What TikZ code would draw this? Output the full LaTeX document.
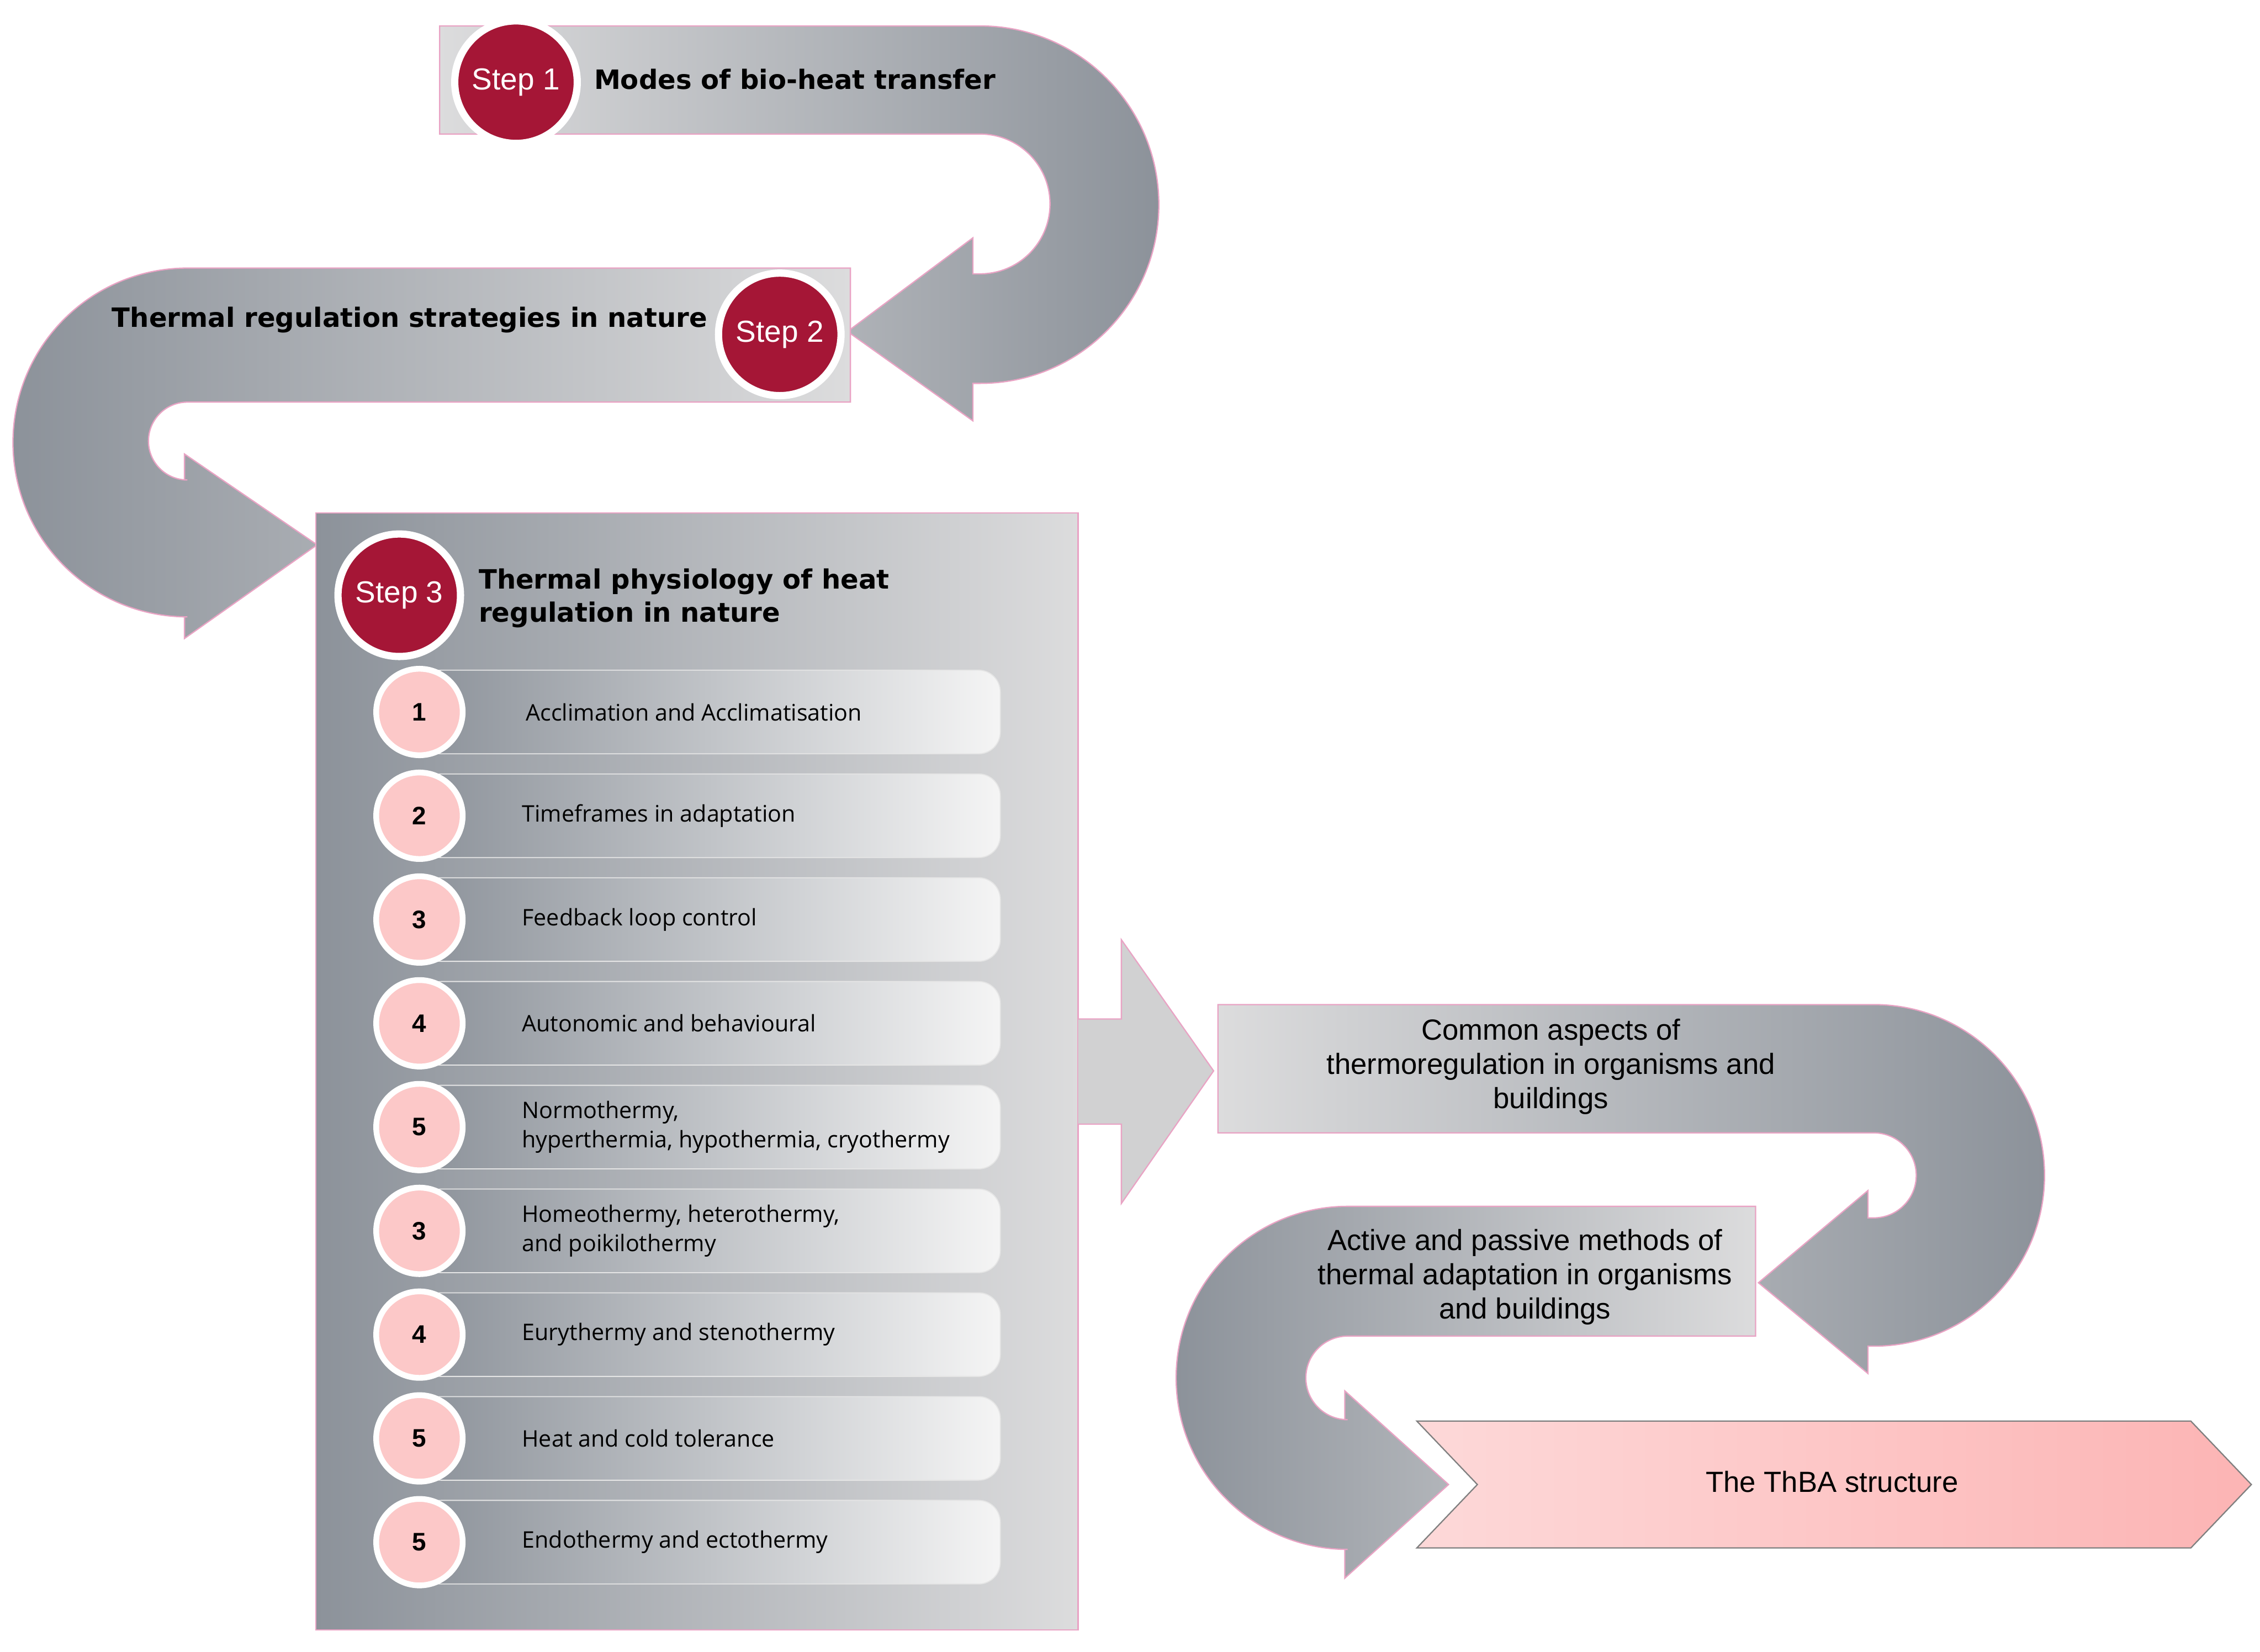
\documentclass[tikz,border=0pt]{standalone}
\usepackage{fontspec}
\setmainfont{Liberation Sans}
\newfontfamily\headfont{DejaVu Sans}
\newfontfamily\itemfont{Open Sans}
\usetikzlibrary{positioning}

\definecolor{stepred}{HTML}{A51636}
\definecolor{numpink}{HTML}{FCC8C8}
\definecolor{edgepink}{HTML}{E9A3C4}
\definecolor{darkgray}{HTML}{8C929A}
\definecolor{lightgray}{HTML}{DCDCDD}

\begin{document}
\begin{tikzpicture}[x=0.2mm, y=-0.2mm,
	band/.style={draw=edgepink, line width=0.5pt},
	stepdot/.style={circle, fill=stepred, draw=white, line width=1mm, minimum size=17mm, text=white, font=\fontsize{12}{14}\selectfont},
	num/.style={circle, fill=numpink, draw=white, line width=0.8mm, minimum size=12mm, font=\fontsize{10}{12}\selectfont\bfseries},
	head/.style={font=\headfont\fontsize{10.5}{13}\selectfont\bfseries},
	item/.style={anchor=west, align=left, font=\itemfont\fontsize{9}{11.5}\selectfont},
	note/.style={align=center, font=\fontsize{11.5}{13.5}\selectfont}]
	\useasboundingbox (0,0) rectangle (1568,1146);

	% step 1 arrow
	\shade[band, left color=lightgray, right color=darkgray] (305,18) -- (680,18) arc (-90:90:124) -- (675,266) -- (675,292) -- (588,230) -- (675,165) -- (675,190) -- (680,190) arc (90:-90:48.5) -- (305,93) -- cycle;
	% step 2 arrow
	\shade[band, left color=darkgray, right color=lightgray] (590,186) -- (130,186) arc (-90:-270:121) -- (128,428) -- (128,443) -- (220,378) -- (128,315) -- (128,333) -- (130,333) arc (90:270:27) -- (590,279) -- cycle;

	% step 3 box
	\shade[band, left color=darkgray, right color=lightgray] (219,356) rectangle (748,1131);
	\fill[band, fill=lightgray!95!black] (748,707) -- (778,707) -- (778,652) -- (842,743) -- (778,835) -- (778,780) -- (748,780);

	% right side
	\shade[band, left color=numpink!70!white, right color=numpink!90!red, draw=gray] (983,986) -- (1520,986) -- (1562,1030) -- (1520,1074) -- (983,1074) -- (1025,1030) -- cycle;
	\shade[band, left color=lightgray, right color=darkgray] (845,697) -- (1300,697) arc (-90:90:118.5) -- (1296,934) -- (1296,953) -- (1220,890) -- (1296,826) -- (1296,845) -- (1300,845) arc (90:-90:29.5) -- (845,786) -- cycle;
	\shade[band, left color=darkgray, right color=lightgray] (1218,837) -- (935,837) arc (-90:-270:119) -- (933,1075) -- (933,1095) -- (1005,1030) -- (933,965) -- (933,985) -- (935,985) arc (90:270:29) -- (1218,927) -- cycle;

	\node[stepdot] (step1) at (358,57) {Step 1};
	\node[stepdot] (step2) at (541,232) {Step 2};
	\node[stepdot] (step3) at (277,413) {Step 3};
	\node[head, anchor=west] (modes) at (406,55) {Modes of bio-heat transfer};
	\node[head, anchor=east] (strategies) at (497,222) {Thermal regulation strategies in nature};
	\node[head, anchor=west, align=left] (physiology) at (326,415) {Thermal physiology of heat\\regulation in nature};

	\foreach \i/\n/\t in {1/1/{\,Acclimation and Acclimatisation}, 2/2/{Timeframes in adaptation}, 3/3/{Feedback loop control}, 4/4/{Autonomic and behavioural}, 5/5/{Normothermy,\\hyperthermia, hypothermia, cryothermy}, 6/3/{Homeothermy, heterothermy,\\and poikilothermy}, 7/4/{Eurythermy and stenothermy}, 8/5/{Heat and cold tolerance}, 9/5/{Endothermy and ectothermy}} {
		\shade[left color=darkgray, right color=white!96!black, draw=white!90!black, rounded corners=3mm] (291,393+72*\i) rectangle (694,451+72*\i);
		\node[num] (num\i) at (291,422+72*\i) {\n};
		\node[item] (item\i) at (356,422+72*\i) {\t};
	}

	\node[note] (common) at (1076,740) {Common aspects of\\thermoregulation in organisms and\\buildings};
	\node[note] (active) at (1058,886) {Active and passive methods of\\thermal adaptation in organisms\\and buildings};
	\node[note] (thba) at (1271,1028) {The ThBA structure};
\end{tikzpicture}
\end{document}
